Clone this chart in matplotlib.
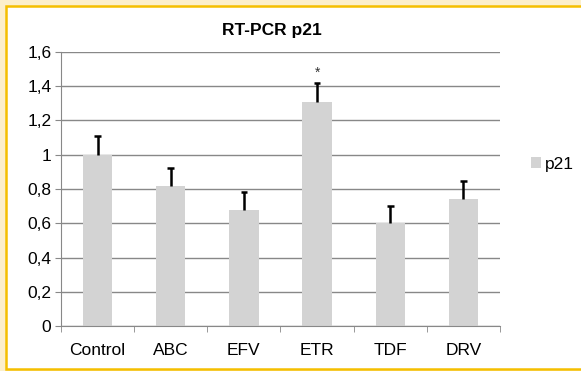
import matplotlib
matplotlib.use('Agg')
import matplotlib.pyplot as plt
from matplotlib.patches import Rectangle
import numpy as np

# data
groups = ['Control', 'ABC', 'EFV', 'ETR', 'TDF', 'DRV']
p21 = [1.0, 0.82, 0.68, 1.31, 0.60, 0.74]
p21_err = [0.11, 0.10, 0.105, 0.11, 0.10, 0.105]
signif = ['', '', '', '*', '', '']
ytick_labels = ['0', '0,2', '0,4', '0,6', '0,8', '1', '1,2', '1,4', '1,6']

plt.rcParams['font.family'] = ['Liberation Sans', 'DejaVu Sans']

fig = plt.figure(figsize=(5.81, 3.71), dpi=100)
fig.patch.set_facecolor('#FCEFCB')

# white panel with orange border (right side runs off the picture)
W, H = 581, 371
panel = Rectangle((6 / W, 2 / H), 600 / W, 363 / H, transform=fig.transFigure,
                  facecolor='white', edgecolor='#F5BF00', linewidth=1.8, zorder=-5)
fig.add_artist(panel)

ax = fig.add_axes([61 / W, (H - 326) / H, (500 - 61) / W, (326 - 52) / H])
ax.set_facecolor('none')
ax.set_zorder(1)

x = np.arange(len(groups))
ax.bar(x, p21, width=0.4, color='#D3D3D3', zorder=2, label='p21')
# only the upper half of the error bar, like excel
tops = np.array(p21) + np.array(p21_err)
ax.vlines(x, p21, tops, color='black', linewidth=1.8, zorder=3)
ax.hlines(tops, x - 0.045, x + 0.045, color='black', linewidth=1.8, zorder=3)
for xi, t, s in zip(x, tops, signif):
    if s:
        ax.text(xi, t + 0.02, s, ha='center', va='bottom', fontsize=10, color='#333333')

ax.set_xlim(-0.5, len(groups) - 0.5)
ax.set_ylim(0, 1.6)
ax.set_yticks(np.arange(0, 1.61, 0.2))
ax.set_yticklabels(ytick_labels, fontsize=12.5)
ax.set_xticks(x)
ax.set_xticklabels(groups, fontsize=12.5)
ax.tick_params(axis='x', length=0, pad=12)
ax.tick_params(axis='y', length=4, color='#888888', pad=3)
ax.set_xticks(np.arange(-0.5, len(groups)), minor=True)
ax.tick_params(axis='x', which='minor', length=4, color='#888888')

ax.grid(axis='y', color='#888888', linewidth=1, zorder=1)
for s in ['top', 'right']:
    ax.spines[s].set_visible(False)
ax.spines['left'].set_color('#888888')
ax.spines['bottom'].set_color('#888888')

ax.set_title('RT-PCR p21', fontsize=12.5, fontweight='bold', pad=12)
ax.title.set_position((0.48, 1))

ax.legend(loc='center left', bbox_to_anchor=(1.07, 0.59), frameon=False, fontsize=12.5,
          handlelength=0.6, handleheight=0.6, handletextpad=0.2, borderaxespad=0, borderpad=0)

fig.savefig('out.png', dpi=100, facecolor=fig.get_facecolor())
